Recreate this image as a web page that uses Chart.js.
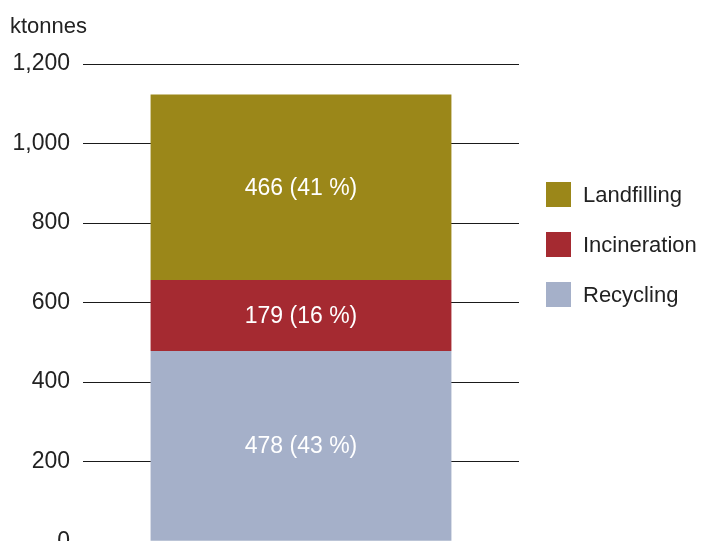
<!DOCTYPE html>
<html>
<head>
<meta charset="utf-8">
<script src="https://cdn.jsdelivr.net/npm/chart.js@4.4.1/dist/chart.umd.min.js"></script>
<style>
    html, body { margin: 0; padding: 0; background: #fff; overflow: hidden; }
    #wrap { position: relative; width: 701px; height: 568px; }
    #unit {
        position: absolute; left: 10px; top: 13px;
        font: 22px "Liberation Sans", Arial, sans-serif; color: #222;
    }
    #legend { position: absolute; left: 546px; top: 182px; }
    .item { display: flex; align-items: center; height: 25px; margin-bottom: 25px;
        font: 22px "Liberation Sans", Arial, sans-serif; color: #222; }
    .swatch { width: 25px; height: 25px; margin-right: 12px; }
</style>
</head>
<body>
<div id="wrap">
    <canvas id="chart" width="701" height="568"></canvas>
    <div id="unit">ktonnes</div>
    <div id="legend"></div>
</div>
<script>
// Waste treatment, ktonnes
const categories = [''];
const seriesNames = ['Recycling', 'Incineration', 'Landfilling'];
const recycling = [478];
const incineration = [179];
const landfilling = [466];
const shares = [43, 16, 41];
const yTicks = [0, 200, 400, 600, 800, 1000, 1200];

const colors = ['#a5b0c9', '#a52a31', '#9b8719'];
const values = [recycling, incineration, landfilling];

// White value labels in the middle of each segment
const segmentLabels = {
    id: 'segmentLabels',
    afterDatasetsDraw(chart) {
        const ctx = chart.ctx;
        ctx.save();
        ctx.fillStyle = '#fff';
        ctx.font = '23px "Liberation Sans", Arial, sans-serif';
        ctx.textAlign = 'center';
        ctx.textBaseline = 'middle';
        chart.data.datasets.forEach((ds, i) => {
            chart.getDatasetMeta(i).data.forEach((bar, j) => {
                const mid = (bar.y + bar.base) / 2 + 1;
                ctx.fillText(ds.data[j] + ' (' + shares[i] + ' %)', bar.x, mid);
            });
        });
        ctx.restore();
    }
};

new Chart(document.getElementById('chart'), {
    type: 'bar',
    data: {
        labels: categories,
        datasets: seriesNames.map((name, i) => ({
            label: name,
            data: values[i],
            backgroundColor: colors[i],
            borderWidth: 0,
            barPercentage: 1,
            categoryPercentage: 0.69
        }))
    },
    options: {
        responsive: false,
        animation: false,
        layout: { padding: { left: 0, right: 182, top: 64, bottom: 0 } },
        plugins: { legend: { display: false }, tooltip: { enabled: false } },
        scales: {
            x: { stacked: true, display: false },
            y: {
                stacked: true,
                min: 0,
                max: 1200,
                afterBuildTicks(scale) {
                    scale.ticks = yTicks.map(v => ({ value: v }));
                },
                afterFit(scale) { scale.width = 83; },
                border: { display: false },
                grid: { color: '#1a1a1a', lineWidth: 1, drawTicks: false },
                ticks: {
                    padding: 13,
                    color: '#222',
                    font: { family: '"Liberation Sans", Arial, sans-serif', size: 23 },
                    callback: v => v.toLocaleString('en-US')
                }
            }
        }
    },
    plugins: [segmentLabels]
});

// Legend, top entry first
const legend = document.getElementById('legend');
[2, 1, 0].forEach(i => {
    const item = document.createElement('div');
    item.className = 'item';
    item.innerHTML = '<span class="swatch" style="background:' + colors[i] + '"></span>' + seriesNames[i];
    legend.appendChild(item);
});
</script>
</body>
</html>
